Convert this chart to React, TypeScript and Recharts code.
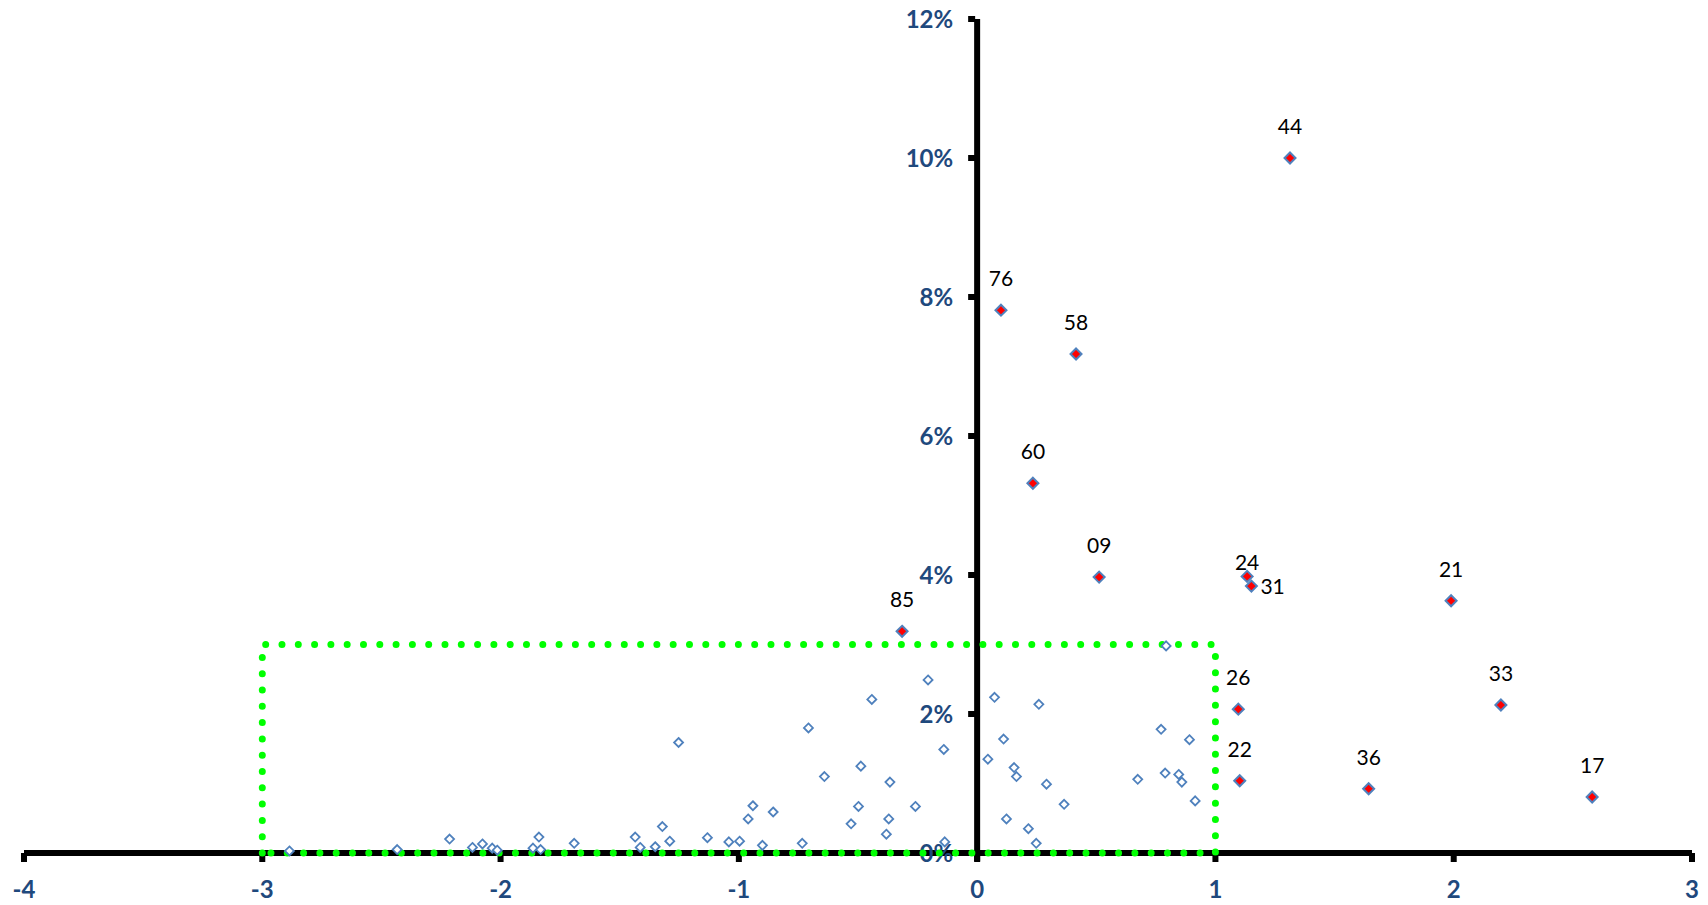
import React from "react";
import { ScatterChart, Scatter, XAxis, YAxis, ReferenceLine } from "recharts";

// highlighted (labelled) items
const labeledCodes = ["44", "76", "58", "60", "09", "24", "31", "21", "85", "26", "33", "22", "36", "17"];
const labeledX = [1.313, 0.1, 0.415, 0.234, 0.512, 1.133, 1.151, 1.989, -0.315, 1.096, 2.198, 1.102, 1.643, 2.581];
const labeledY = [10.0, 7.81, 7.18, 5.32, 3.97, 3.98, 3.84, 3.63, 3.19, 2.07, 2.13, 1.04, 0.925, 0.806];

// everything else
const otherX = [
  -2.886, -2.434, -2.214, -2.118, -2.076, -2.035, -2.014, -1.864, -1.839, -1.832,
  -1.691, -1.435, -1.414, -1.351, -1.321, -1.29, -1.253,
  -1.132, -1.042, -0.997, -0.961, -0.941, -0.901, -0.856, -0.734, -0.708, -0.641,
  -0.529, -0.498, -0.488, -0.442, -0.381, -0.371, -0.366, -0.259, -0.206, -0.14,
  -0.136, 0.045, 0.073, 0.111, 0.123, 0.155, 0.165, 0.215, 0.248, 0.259,
  0.291, 0.365, 0.674, 0.772, 0.789, 0.793, 0.846, 0.859, 0.891, 0.915,
];
const otherY = [
  0.03, 0.05, 0.2, 0.08, 0.13, 0.07, 0.04, 0.07, 0.23, 0.05,
  0.14, 0.23, 0.08, 0.09, 0.38, 0.17, 1.59,
  0.22, 0.16, 0.17, 0.49, 0.68, 0.11, 0.59, 0.14, 1.8, 1.1,
  0.42, 0.67, 1.25, 2.21, 0.27, 0.49, 1.02, 0.67, 2.49, 1.49,
  0.16, 1.35, 2.24, 1.64, 0.49, 1.23, 1.1, 0.35, 0.14, 2.14,
  0.99, 0.7, 1.06, 1.78, 1.15, 2.98, 1.13, 1.02, 1.63, 0.75,
];

const xTicks = [-4, -3, -2, -1, 0, 1, 2, 3];
const yTicks = [0, 2, 4, 6, 8, 10, 12];

// green box bounds
const boxX = [-3, 1];
const boxY = [0, 3];

const labeledData = labeledCodes.map((code, i) => ({ code, x: labeledX[i], y: labeledY[i] }));
const otherData = otherX.map((x, i) => ({ x, y: otherY[i] }));
const yTickData = yTicks.map((v) => ({ x: 0, y: v }));
const boxData = [
  { x: boxX[0], y: boxY[0] },
  { x: boxX[0], y: boxY[1] },
  { x: boxX[1], y: boxY[1] },
  { x: boxX[1], y: boxY[0] },
  { x: boxX[0], y: boxY[0] },
];

const AXIS_BLUE = "#1F497D";
const MARKER_BLUE = "#4F81BD";

const NoMark = () => <g />;

const OpenDiamond = ({ cx, cy }: any) => {
  const r = 4.5;
  return (
    <polygon
      points={`${cx},${cy - r} ${cx + r},${cy} ${cx},${cy + r} ${cx - r},${cy}`}
      fill="#fff"
      stroke={MARKER_BLUE}
      strokeWidth={1.8}
    />
  );
};

const LabeledDiamond = ({ cx, cy, payload }: any) => {
  const r = 5.5;
  const code = payload.code;
  let label;
  if (code === "31") {
    label = <text x={cx + 9} y={cy + 8} textAnchor="start">{code}</text>;
  } else if (code === "24") {
    label = <text x={cx} y={cy - 6} textAnchor="middle">{code}</text>;
  } else {
    label = <text x={cx} y={cy - 24} textAnchor="middle">{code}</text>;
  }
  return (
    <g>
      <polygon
        points={`${cx},${cy - r} ${cx + r},${cy} ${cx},${cy + r} ${cx - r},${cy}`}
        fill="#FF0000"
        stroke={MARKER_BLUE}
        strokeWidth={2}
      />
      <g fontSize={21} fill="#000" fontFamily="Lato, sans-serif">{label}</g>
    </g>
  );
};

const YTickMark = ({ cx, cy, payload }: any) => (
  <g>
    <rect x={cx - 9} y={cy - 3} width={7} height={6} fill="#000" />
    <text
      x={cx - 24}
      y={cy + 9}
      textAnchor="end"
      fontSize={24}
      fontWeight="bold"
      fill={AXIS_BLUE}
      fontFamily="Lato, sans-serif"
    >
      {`${payload.y}%`}
    </text>
  </g>
);

const XTick = ({ x, y, payload }: any) => (
  <text
    x={x}
    y={y + 36}
    textAnchor="middle"
    fontSize={24}
    fontWeight="bold"
    fill={AXIS_BLUE}
    fontFamily="Lato, sans-serif"
  >
    {payload.value}
  </text>
);

export default function App() {
  return (
    <div style={{ width: 1700, height: 897, fontFamily: "Lato, sans-serif" }}>
      <ScatterChart width={1700} height={897} margin={{ top: 11, right: 16, left: 16, bottom: 0 }}>
        <XAxis
          dataKey="x"
          type="number"
          domain={[-4, 3]}
          ticks={xTicks}
          interval={0}
          height={52}
          axisLine={{ stroke: "#000", strokeWidth: 6 }}
          tickLine={{ stroke: "#000", strokeWidth: 6 }}
          tickSize={9}
          tickMargin={0}
          tick={<XTick />}
        />
        <YAxis dataKey="y" type="number" domain={[0, 12]} hide />
        <ReferenceLine
          segment={[{ x: 0, y: -0.12 }, { x: 0, y: 12 }]}
          stroke="#000"
          strokeWidth={6}
          ifOverflow="visible"
        />
        <Scatter data={yTickData} shape={<YTickMark />} isAnimationActive={false} />
        <Scatter
          data={boxData}
          shape={<NoMark />}
          line={{ stroke: "#00FF00", strokeWidth: 7, strokeDasharray: "0 16.3", strokeLinecap: "round" }}
          lineType="joint"
          isAnimationActive={false}
        />
        <Scatter data={otherData} shape={<OpenDiamond />} isAnimationActive={false} />
        <Scatter data={labeledData} shape={<LabeledDiamond />} isAnimationActive={false} />
      </ScatterChart>
    </div>
  );
}
